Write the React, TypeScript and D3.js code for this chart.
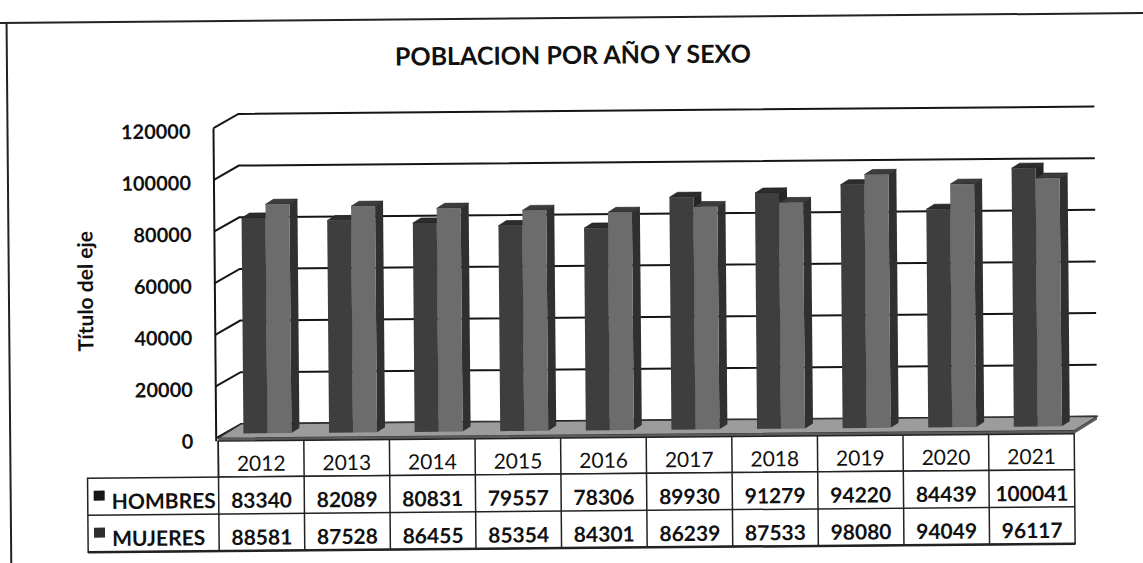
import React from 'react';
import * as d3 from 'd3';

const years = ['2012', '2013', '2014', '2015', '2016', '2017', '2018', '2019', '2020', '2021'];
const seriesNames = ['HOMBRES', 'MUJERES'];
const hombres = [83340, 82089, 80831, 79557, 78306, 89930, 91279, 94220, 84439, 100041];
const mujeres = [88581, 87528, 86455, 85354, 84301, 86239, 87533, 98080, 94049, 96117];
const yTicks = [0, 20000, 40000, 60000, 80000, 100000, 120000];

const W = 1143;
const H = 563;
const FONT = 'Lato, "Open Sans", sans-serif';

// 3d look of the excel chart
const DX = 23, DY = -14;       // wall depth
const BDX = 8, BDY = -5;       // bar depth
const OX = 7.5, OY = -4.5;     // bars sit in the middle of the floor
const BAR_W = 24;

const colors = {
  HOMBRES: { front: '#3e3e3e', side: '#262626', top: '#2c2c2c', key: '#161616' },
  MUJERES: { front: '#6c6c6c', side: '#303030', top: '#3c3c3c', key: '#2e2e2e' },
};

const App = () => {
  const x = d3.scaleBand().domain(years).range([217, 1073]);
  const y = d3.scaleLinear().domain([0, 120000]).range([435, 125]);
  const xs = d3.scaleBand().domain(seriesNames).range([0, BAR_W * 2]);
  const floorY = y(0);
  const x0 = x.range()[0];
  const x1 = x.range()[1];

  // table rows
  const rowTops = [438, 474, 511, 548];
  const legendLeft = 86;
  const tableData = [
    { name: 'HOMBRES', values: hombres },
    { name: 'MUJERES', values: mujeres },
  ];

  const pts = (arr) => arr.map(p => p.join(',')).join(' ');

  const bars = [];
  years.forEach((yr, i) => {
    [hombres[i], mujeres[i]].forEach((v, j) => {
      const s = seriesNames[j];
      const c = colors[s];
      const bx = x(yr) + x.bandwidth() / 2 - BAR_W + xs(s) + OX - 1;
      const top = y(v) + OY;
      const bottom = floorY + OY;
      bars.push(
        <g key={yr + s}>
          <polygon points={pts([[bx + BAR_W, top], [bx + BAR_W + BDX, top + BDY], [bx + BAR_W + BDX, bottom + BDY], [bx + BAR_W, bottom]])} fill={c.side} />
          <polygon points={pts([[bx, top], [bx + BDX, top + BDY], [bx + BAR_W + BDX, top + BDY], [bx + BAR_W, top]])} fill={c.top} stroke="#1a1a1a" strokeWidth={0.6} />
          <rect x={bx} y={top} width={BAR_W} height={bottom - top} fill={c.front} />
        </g>
      );
    });
  });

  return (
    <svg width={W} height={H} style={{ position: 'absolute', left: 0, top: 0, background: '#fff' }}>
      <g transform="rotate(-0.5 575 300)">
        {/* outer frame */}
        <line x1={-20} x2={W + 20} y1={18} y2={18} stroke="#222" strokeWidth={2} />
        <line x1={9} x2={9} y1={18} y2={H + 20} stroke="#222" strokeWidth={2} />

        <text x={575} y={64} textAnchor="middle" fontFamily={FONT} fontWeight="bold" fontSize={25} fill="#111">
          POBLACION POR AÑO Y SEXO
        </text>

        <text transform="translate(93,287) rotate(-90)" textAnchor="middle" fontFamily={FONT} fontWeight="bold" fontSize={21} fill="#111">
          Título del eje
        </text>

        {/* gridlines: side wall + back wall */}
        {yTicks.map(t => (
          <polyline key={t} points={pts([[215, y(t)], [x0 + DX, y(t) + DY], [x1 + DX, y(t) + DY]])}
            fill="none" stroke="#151515" strokeWidth={2} />
        ))}
        <line x1={215} x2={215} y1={y(120000)} y2={floorY + 3} stroke="#151515" strokeWidth={2} />

        {yTicks.map(t => (
          <text key={'l' + t} x={192} y={y(t) + 3} dy="0.36em" textAnchor="end" fontFamily={FONT} fontWeight="bold" fontSize={20} fill="#111">
            {t}
          </text>
        ))}

        {/* floor */}
        <polygon points={pts([[x0, floorY], [x0 + DX, floorY + DY], [x1 + DX, floorY + DY], [x1, floorY]])} fill="#9c9c9c" stroke="#333" strokeWidth={1.2} />
        <polygon points={pts([[x0, floorY], [x1, floorY], [x1 + DX, floorY + DY], [x1 + DX, floorY + DY + 3], [x1, floorY + 3], [x0, floorY + 3]])} fill="#5a5a5a" />

        {bars}

        {/* data table */}
        <g fontFamily={FONT} fill="#111">
          <rect x={x0} y={rowTops[0]} width={x1 - x0} height={rowTops[1] - rowTops[0]} fill="#fff" stroke="#222" strokeWidth={1.5} />
          <rect x={legendLeft} y={rowTops[1]} width={x1 - legendLeft} height={rowTops[3] - rowTops[1]} fill="#fff" stroke="#222" strokeWidth={1.5} />
          <line x1={legendLeft} x2={x1} y1={rowTops[2]} y2={rowTops[2]} stroke="#222" strokeWidth={1.5} />
          <line x1={legendLeft} x2={x1} y1={rowTops[3]} y2={rowTops[3]} stroke="#222" strokeWidth={2.5} />
          {years.map(yr => (
            <line key={'c' + yr} x1={x(yr)} x2={x(yr)} y1={rowTops[0]} y2={rowTops[3]} stroke="#222" strokeWidth={1.5} />
          ))}
          {years.map(yr => (
            <text key={'y' + yr} x={x(yr) + x.bandwidth() / 2} y={rowTops[1] - 6} textAnchor="middle" fontSize={21} fill="#111">
              {yr}
            </text>
          ))}
          {tableData.map((row, r) => (
            <g key={row.name}>
              <rect x={92} y={(rowTops[r + 1] + rowTops[r + 2]) / 2 - 6} width={11} height={10} fill={colors[row.name].key} />
              <text x={110} y={rowTops[r + 2] - 6} fontSize={21} fontWeight="bold">{row.name}</text>
              {row.values.map((v, i) => (
                <text key={i} x={x(years[i]) + x.bandwidth() / 2} y={rowTops[r + 2] - 6} textAnchor="middle" fontSize={21} fontWeight="bold">
                  {v}
                </text>
              ))}
            </g>
          ))}
        </g>
      </g>
    </svg>
  );
};

export default App;
